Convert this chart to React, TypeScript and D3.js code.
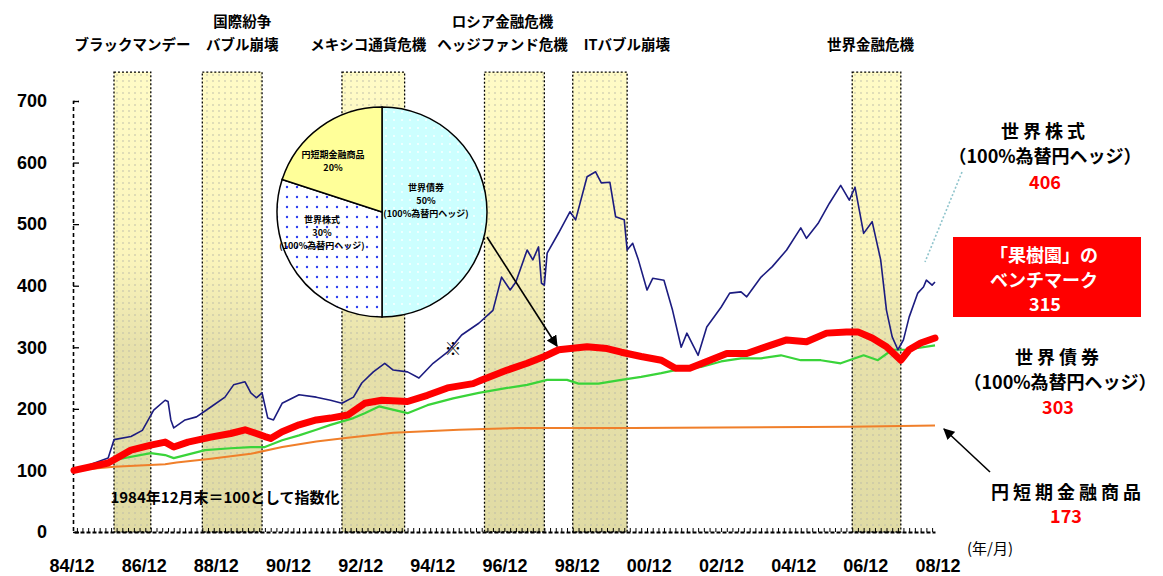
import React, { useEffect, useRef } from 'react';
import * as d3 from 'd3';

// ---------------- data ----------------
const equityDates = ['1984-12','1985-12','1986-02','1986-08','1986-12','1987-04','1987-08','1987-09','1987-10','1987-11','1988-03','1988-07','1988-12','1989-05','1989-08','1989-12','1990-02','1990-04','1990-06','1990-08','1990-10','1991-01','1991-07','1992-01','1992-06','1992-10','1993-02','1993-05','1993-09','1994-01','1994-04','1994-09','1995-01','1995-06','1995-11','1996-04','1996-10','1997-03','1997-06','1997-09','1997-11','1998-03','1998-05','1998-07','1998-08','1998-09','1998-10','1999-02','1999-06','1999-08','1999-12','2000-03','2000-05','2000-08','2000-10','2001-01','2001-02','2001-04','2001-06','2001-09','2001-11','2002-03','2002-06','2002-09','2002-11','2003-03','2003-06','2003-11','2004-02','2004-06','2004-08','2005-01','2005-05','2005-10','2006-03','2006-05','2006-09','2007-01','2007-05','2007-08','2007-10','2008-01','2008-04','2008-07','2008-09','2008-11','2009-01','2009-03','2009-05','2009-08','2009-10','2009-11','2010-01','2010-02'];
const equityValues = [100,120,150,155,165,198,214,212,182,169,182,187,203,219,239,244,226,218,226,185,182,209,223,219,214,209,219,242,260,274,263,260,250,274,292,320,339,360,414,393,406,458,442,463,404,401,453,486,520,507,577,585,567,568,512,507,458,469,442,393,412,409,360,300,323,287,333,365,388,390,382,414,431,458,494,477,501,534,563,539,560,485,504,442,360,317,296,312,349,388,398,409,401,406];

const benchDates = ['1984-12','1985-12','1986-08','1987-03','1987-08','1987-11','1988-04','1988-12','1989-07','1989-12','1990-04','1990-07','1990-09','1991-01','1991-07','1992-01','1992-06','1992-12','1993-06','1993-12','1994-09','1995-04','1995-11','1996-08','1996-11','1997-08','1998-03','1998-09','1999-02','1999-12','2000-07','2000-12','2001-07','2002-02','2002-07','2002-12','2003-06','2004-01','2004-08','2005-03','2005-10','2006-05','2006-12','2007-07','2007-11','2008-04','2008-09','2009-02','2009-05','2009-09','2010-02'];
const benchValues = [100,112,133,141,146,138,146,154,160,166,160,155,152,163,174,182,185,190,209,214,212,222,234,241,247,263,274,285,296,301,298,292,285,279,266,266,277,290,290,301,312,309,323,325,325,315,301,279,296,307,315];

const bondDates = ['1984-12','1986-02','1987-03','1987-08','1987-11','1988-10','1989-07','1990-02','1990-07','1991-01','1991-07','1992-01','1992-06','1993-02','1993-06','1993-11','1994-09','1995-04','1996-01','1996-10','1997-08','1998-03','1998-10','1999-05','1999-09','2000-04','2000-12','2001-07','2002-02','2002-07','2003-04','2003-11','2004-06','2005-01','2005-08','2006-03','2006-10','2007-05','2008-01','2008-06','2008-11','2009-04','2010-02'];
const bondValues = [100,117,128,125,120,133,136,138,138,149,157,166,174,185,193,204,193,206,217,226,234,239,247,247,241,241,247,252,258,263,268,277,282,282,287,279,279,274,287,279,296,296,303];

const cashDates = ['1984-12','1986-02','1987-08','1987-12','1988-12','1990-02','1991-01','1992-01','1992-12','1994-04','1996-03','1997-12','2001-04','2007-08','2010-02'];
const cashValues = [100,106,110,113,119,127,138,147,153,161,166,169,169,171,173];

const crisisStart = ['1986-02','1988-09','1992-10','1996-12','1999-07','2007-09'];
const crisisEnd = ['1987-03','1990-06','1994-08','1998-09','2001-02','2009-02'];
const crisisTitles = [['ブラックマンデー'], ['国際紛争', 'バブル崩壊'], ['メキシコ通貨危機'], ['ロシア金融危機', 'ヘッジファンド危機'], ['ITバブル崩壊'], ['世界金融危機']];

const yTicks = [0, 100, 200, 300, 400, 500, 600, 700];
const xLabels = ['84/12','86/12','88/12','90/12','92/12','94/12','96/12','98/12','00/12','02/12','04/12','06/12','08/12'];

const pieNames = ['世界債券', '世界株式', '円短期金融商品'];
const pieShares = [50, 30, 20];
const pieNotes = ['(100%為替円ヘッジ)', '(100%為替円ヘッジ)', ''];

// ---------------- layout ----------------
const W = 1163, H = 576;
const titleDx = [0, 10, -5, -12, 27, -6];
const pieCx = 382, pieCy = 212, pieR = 105;
const pieFills = ['url(#cyanDots)', 'url(#blueDots)', '#ffff99'];
const pieLabelPos = [[44, -24], [-60, 8], [-49, -57]];
const JP = "'Noto Sans CJK JP', sans-serif";
const LAT = "'Liberation Sans', Arial, sans-serif";

const parse = d3.timeParse('%Y-%m');
const x = d3.scaleTime().domain([parse('1984-12')!, parse('2010-02')!]).range([74, 935]);
const y = d3.scaleLinear().domain([0, 700]).range([532, 101]);
const xLab = d3.scalePoint<string>().domain(xLabels).range([72, 938]);

const line = d3.line<[Date, number]>().x(d => x(d[0])).y(d => y(d[1])).curve(d3.curveLinear);
const series = (ds: string[], vs: number[]) => ds.map((d, i) => [parse(d)!, vs[i]] as [Date, number]);

export default function App() {
  const yAxisRef = useRef<SVGGElement>(null);
  const xAxisRef = useRef<SVGGElement>(null);

  useEffect(() => {
    const gy = d3.select(yAxisRef.current!);
    gy.call(d3.axisLeft(y).tickValues(yTicks).tickSize(-6).tickPadding(26) as any);
    gy.select('.domain').attr('stroke-dasharray', '4,3').attr('stroke-width', 1.6);
    gy.selectAll('.tick line').attr('stroke-width', 1.3);
    gy.selectAll('text').attr('font-size', 18).attr('font-weight', 700).attr('font-family', LAT).attr('fill', '#000');

    const gx = d3.select(xAxisRef.current!);
    gx.call(d3.axisBottom(x).ticks(d3.timeMonth.every(2)).tickSize(-4).tickSizeOuter(0).tickFormat(() => '') as any);
    gx.select('.domain').attr('stroke-dasharray', '4,2').attr('stroke-width', 1.8);
    gx.selectAll('.tick line').attr('stroke-width', 1);
  }, []);

  const arcs = d3.pie<number>().sort(null).value(d => d)(pieShares);
  const arcGen = d3.arc<d3.PieArcDatum<number>>().innerRadius(0).outerRadius(pieR);
  const bandTop = y(747);

  return (
    <svg width={W} height={H} style={{ position: 'absolute', left: 0, top: 0, background: '#fff' }}>
      <defs>
        <linearGradient id="bandGrad" x1="0" y1="0" x2="0" y2="1">
          <stop offset="0" stopColor="#fffbc6" />
          <stop offset="0.4" stopColor="#fbf5bc" />
          <stop offset="0.6" stopColor="#e7e1ab" />
          <stop offset="1" stopColor="#e0dba4" />
        </linearGradient>
        <pattern id="bandDots" width="6" height="6" patternUnits="userSpaceOnUse">
          <circle cx="3" cy="3" r="0.8" fill="#b8b8a8" />
        </pattern>
        <pattern id="cyanDots" width="8" height="8" patternUnits="userSpaceOnUse">
          <rect width="8" height="8" fill="#ccffff" />
          <circle cx="4" cy="4" r="0.9" fill="#ffffff" />
        </pattern>
        <pattern id="blueDots" width="10" height="10" patternUnits="userSpaceOnUse">
          <rect width="10" height="10" fill="#ffffff" />
          <circle cx="5" cy="5" r="1.2" fill="#2a3cf0" />
        </pattern>
        <marker id="arrowHead" viewBox="0 0 10 10" refX="9" refY="5" markerWidth="7" markerHeight="7" orient="auto">
          <path d="M0,0 L10,5 L0,10 z" fill="#000" />
        </marker>
      </defs>

      {/* crisis bands */}
      {crisisStart.map((s, i) => {
        const x0 = x(parse(s)!), x1 = x(parse(crisisEnd[i])!);
        const cx = (x0 + x1) / 2 + titleDx[i];
        const lines = crisisTitles[i];
        return (
          <g key={'band' + i}>
            <rect x={x0} y={bandTop} width={x1 - x0} height={y(0) - bandTop} fill="url(#bandGrad)" />
            <rect x={x0} y={bandTop} width={x1 - x0} height={y(0) - bandTop} fill="url(#bandDots)" stroke="#000" strokeWidth={1.3} strokeDasharray="2,2" />
            {lines.map((t, j) => (
              <text key={j} x={cx} y={lines.length === 2 ? 27 + j * 23 : 50} textAnchor="middle" fontFamily={JP} fontWeight={700} fontSize={14.5} fill="#000">{t}</text>
            ))}
          </g>
        );
      })}

      {/* axes */}
      <g ref={yAxisRef} transform="translate(73,0)" />
      <g ref={xAxisRef} transform="translate(0,532)" />
      {xLabels.map((l, i) => (
        <text key={'xl' + i} x={xLab(l)} y={572} textAnchor="middle" fontFamily={LAT} fontWeight={700} fontSize={18} fill="#000">{l}</text>
      ))}
      <text x={990} y={554} textAnchor="middle" fontFamily={JP} fontSize={15} fill="#000">(年/月)</text>

      {/* lines */}
      <path d={line(series(cashDates, cashValues))!} fill="none" stroke="#f07f2a" strokeWidth={2} />
      <path d={line(series(bondDates, bondValues))!} fill="none" stroke="#3ad43a" strokeWidth={2.2} strokeLinejoin="round" />
      <path d={line(series(equityDates, equityValues))!} fill="none" stroke="#1c1c80" strokeWidth={1.6} strokeLinejoin="round" />
      <path d={line(series(benchDates, benchValues))!} fill="none" stroke="#ff0000" strokeWidth={7} strokeLinejoin="round" strokeLinecap="round" />

      {/* note */}
      <text x={225} y={503} textAnchor="middle" fontFamily={JP} fontWeight={700} fontSize={15} fill="#000">1984年12月末＝100として指数化</text>

      {/* pie */}
      <g transform={`translate(${pieCx},${pieCy})`}>
        {arcs.map((a, i) => (
          <path key={'arc' + i} d={arcGen(a)!} fill={pieFills[i]} stroke="#000" strokeWidth={1.5} />
        ))}
        {arcs.map((a, i) => {
          const [lx, ly] = pieLabelPos[i];
          return (
            <g key={'pl' + i} fontFamily={JP} fontWeight={700} fontSize={9} fill="#000" textAnchor="middle">
              <text x={lx} y={ly + 3}>{pieNames[i]}</text>
              <text x={lx} y={ly + 16}>{pieShares[i]}%</text>
              {pieNotes[i] && <text x={lx} y={ly + 29}>{pieNotes[i]}</text>}
            </g>
          );
        })}
      </g>

      {/* arrows & marks */}
      <line x1={487} y1={237} x2={557} y2={346} stroke="#000" strokeWidth={1.6} markerEnd="url(#arrowHead)" />
      <text x={453} y={355} textAnchor="middle" fontFamily={JP} fontWeight={700} fontSize={17} fill="#000">※</text>
      <line x1={962} y1={172} x2={925} y2={262} stroke="#8fc4cc" strokeWidth={1.6} strokeDasharray="2,2" />
      <line x1={990} y1={472} x2={944} y2={429} stroke="#000" strokeWidth={1.6} markerEnd="url(#arrowHead)" />

      {/* right annotations */}
      <g fontFamily={JP} fontWeight={700} fontSize={18} textAnchor="middle">
        <text x={1045} y={138} fill="#000" letterSpacing={4}>世界株式</text>
        <text x={1045} y={163} fill="#000">（100%為替円ヘッジ）</text>
        <text x={1045} y={189} fill="#ff0000">406</text>

        <rect x={953} y={237} width={188} height={80} fill="#ff0000" />
        <text x={1044} y={262} fill="#fff">「果樹園」の</text>
        <text x={1044} y={287} fill="#fff">ベンチマーク</text>
        <text x={1045} y={311} fill="#fff">315</text>

        <text x={1059} y={364} fill="#000" letterSpacing={4}>世界債券</text>
        <text x={1060} y={389} fill="#000">（100%為替円ヘッジ）</text>
        <text x={1058} y={414} fill="#ff0000">303</text>

        <text x={1068} y={499} fill="#000" letterSpacing={4}>円短期金融商品</text>
        <text x={1066} y={523} fill="#ff0000">173</text>
      </g>
    </svg>
  );
}
